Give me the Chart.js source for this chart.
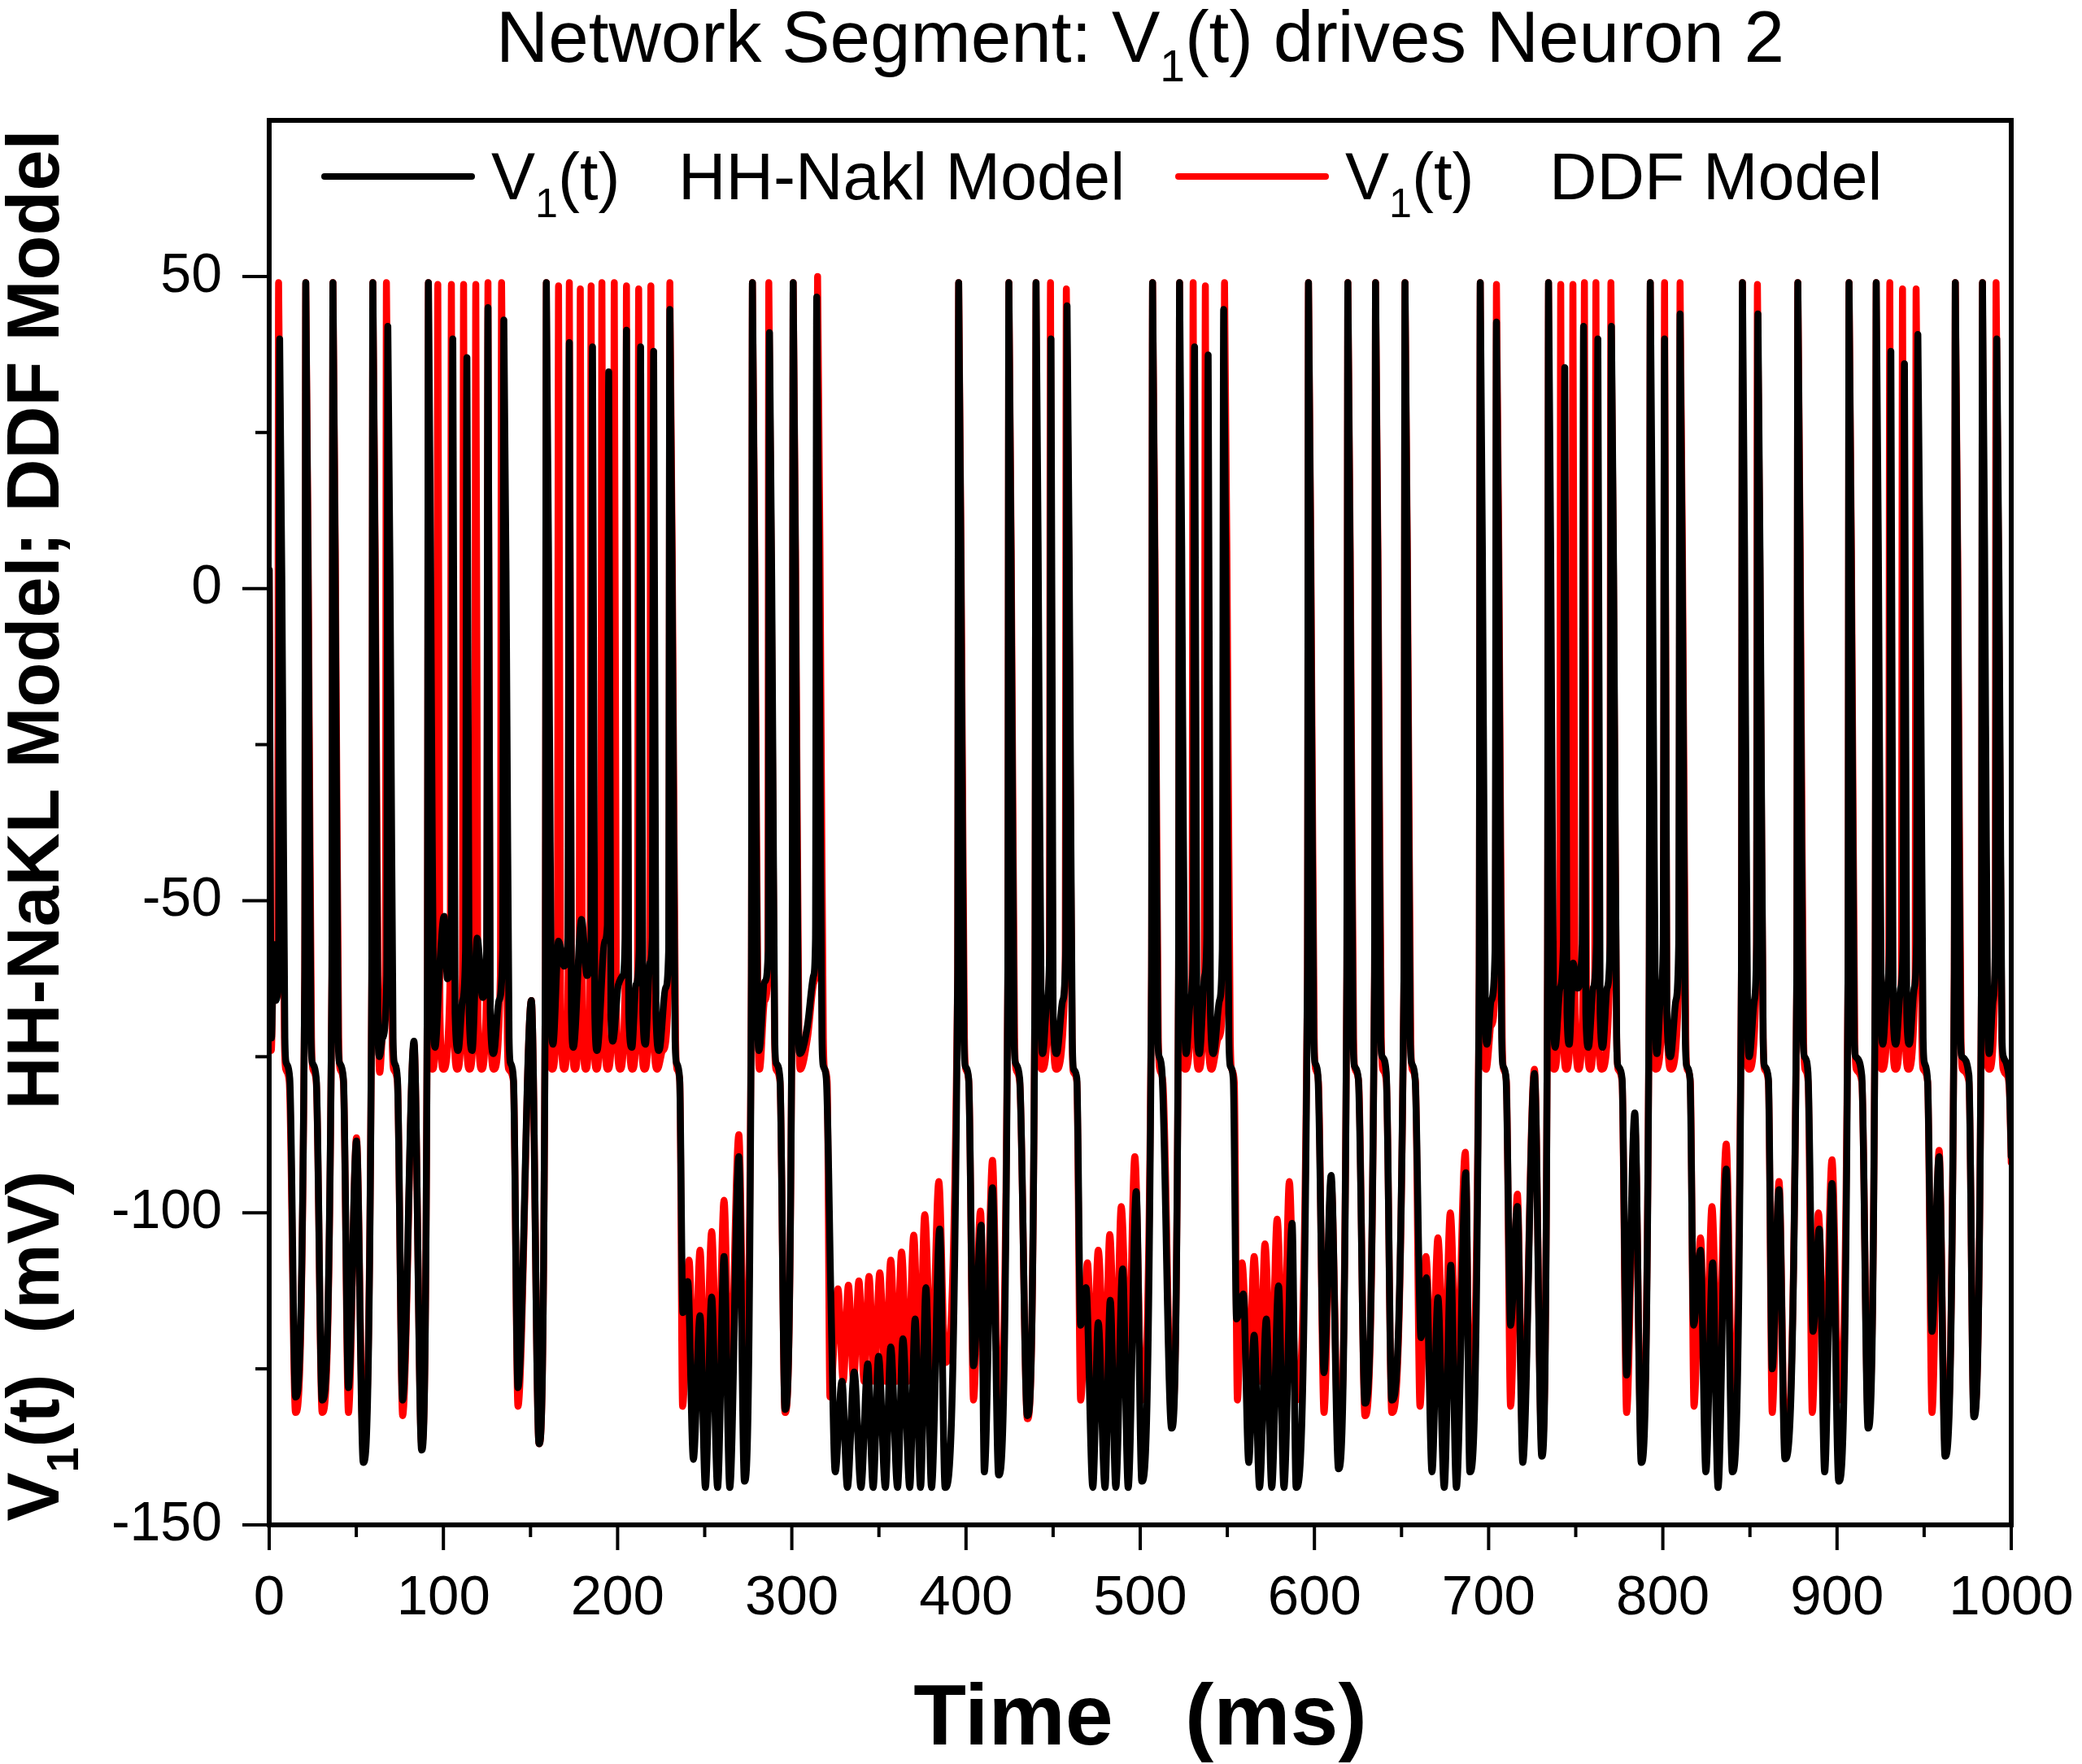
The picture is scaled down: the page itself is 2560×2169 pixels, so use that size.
<!DOCTYPE html>
<html>
<head>
<meta charset="utf-8">
<script src="https://cdn.jsdelivr.net/npm/chart.js@4.4.0/dist/chart.umd.min.js"></script>
<style>
  html, body { margin: 0; padding: 0; background: #fff; }
  canvas { display: block; }
</style>
</head>
<body>
<canvas id="chart" width="2560" height="2169"></canvas>
<script>
const FONT = '"Liberation Sans", Arial, sans-serif'

// tick values
const xTicks = [0, 100, 200, 300, 400, 500, 600, 700, 800, 900, 1000]
const xMinorTicks = [50, 150, 250, 350, 450, 550, 650, 750, 850, 950]
const yTicks = [-150, -100, -50, 0, 50]
const yMinorTicks = [-125, -75, -25, 25]

// V1(t), HH-NaKL model: [time ms, voltage mV]
const hhTrace = [
  [0, 3], [1.3, -72], [2.5, -57], [3.6, -66], [5.4, -62], [6, 40], [7.8, -22], [9, -72], [9.8, -76], [11.8, -78.5], [15.1, -129.5],
  [20.4, -62], [21, 49], [22.8, -22], [24, -72], [24.8, -76], [27, -78.5], [30.4, -130],
  [36, -62], [36.6, 49], [38.4, -22], [39.6, -72], [40.4, -76], [42.6, -78.5], [45.5, -128], [50.1, -88.5], [54, -140],
  [58.9, -62], [59.5, 49], [61.3, -22], [62.5, -72], [63.3, -75], [65, -72], [67.5, -62], [68.1, 42], [69.9, -22], [71.1, -72], [71.9, -76], [73.6, -78.5],
  [76.6, -130], [83.1, -72.5], [87.5, -138],
  [90.8, -62], [91.4, 49], [93.2, -22], [94.4, -70], [95.2, -73.5], [98, -60], [100.4, -52.5], [102.3, -62.5], [104.6, -56], [105.4, 40], [106.7, -68], [108.5, -74],
  [111, -66], [112.7, -58], [113.5, 37], [114.8, -68], [116.5, -74], [119.4, -56], [122.5, -65.5], [124.8, -58], [125.6, 45], [126.9, -68], [128.8, -74.5],
  [131.9, -66], [134, -58], [134.7, 43], [136.5, -22], [137.7, -72], [138.5, -76], [140.2, -78.5], [142.8, -128], [150.5, -66], [154.9, -137],
  [158.5, -62], [159.1, 49], [160.9, -22], [162.1, -70], [162.9, -73], [166.1, -56.5], [169.2, -60.5], [171.5, -56], [172.3, 39.4], [173.5, -68], [174.6, -73.5],
  [179.3, -53], [182.4, -62], [184.8, -56], [185.6, 38.7], [186.9, -68], [188.2, -74], [192.6, -56.5], [194.1, -54], [194.9, 34.7], [196.1, -68], [197.3, -72.5],
  [200.4, -63.5], [203, -62], [204.3, -56], [205.1, 41.4], [206.4, -68], [208.2, -73.5], [210.5, -63.5], [212.4, -58], [213.2, 38.7], [214.5, -68], [216, -73],
  [218.5, -60], [219.9, -56], [220.7, 38], [222, -68], [223.8, -74], [227.5, -64], [229.3, -58], [230, 44.7], [231.8, -22], [233, -72], [233.8, -76], [235.6, -78.5],
  [237.5, -116], [240.3, -111], [243.5, -139.5], [247.3, -116.5], [250.4, -144], [254, -113.5], [257.4, -144], [261.1, -107], [264.4, -144], [269.6, -91], [272.8, -143],
  [276.8, -62], [277.4, 49], [279.2, -22], [280.4, -70], [281.2, -74], [284.4, -63], [286.5, -58], [287.2, 41], [289, -22], [290.2, -72], [291, -76], [293.2, -78.5],
  [296.1, -131.5],
  [300.2, -62], [300.8, 49], [302.6, -22], [303.8, -72], [304.7, -74.5], [309, -70], [312.5, -62], [313.6, -56], [314.3, 46.7], [316.1, -22], [317.3, -72],
  [318.1, -76.5], [319.8, -78.5], [322.6, -116],
  [324.9, -141.5], [328.8, -127], [331.9, -144], [335.8, -125.5], [339.7, -144], [343.6, -124.2], [346.7, -144], [349.8, -123], [353.7, -144], [356.8, -121.5],
  [360.7, -144], [363.8, -120.2], [367.7, -144], [370.8, -117], [373.9, -144], [377, -112], [380.2, -144], [384.9, -102.6], [388, -144],
  [395.2, -62], [395.8, 49], [397.6, -22], [398.8, -72], [399.6, -76.5], [401.5, -78.5], [404.3, -124.5], [408.7, -102], [410.5, -141.5], [415.2, -96], [418.7, -142],
  [424, -62], [424.6, 49], [426.4, -22], [427.6, -72], [428.4, -76], [430.8, -78.5], [435.2, -132.5],
  [439.6, -62], [440.2, 49], [442, -22], [443.2, -70], [444, -74.5], [446.5, -66], [448, -58], [448.8, 40], [450, -68], [452, -74.5], [455.5, -66], [457.2, -58],
  [458, 45.3], [459.8, -22], [461, -72], [461.8, -77], [463.6, -78.5], [465.8, -118],
  [468.9, -112], [472.8, -144], [475.9, -117.6], [479.8, -144], [482.8, -114], [486, -144], [489.9, -109], [493.1, -144], [497.7, -96.6], [500.9, -143],
  [506.5, -62], [507.1, 49], [508.9, -22], [510.1, -72], [510.9, -75], [512.5, -77.5], [518, -134.5],
  [522, -62], [522.6, 49], [524.4, -22], [525.6, -70], [526.4, -74.5], [528.8, -66], [530.4, -58], [531.2, 38.7], [532.5, -68], [534, -74.5], [537, -62], [538.2, -56],
  [539, 37.4], [540.3, -68], [542, -74.5], [545.5, -66], [547.1, -58], [547.9, 44.7], [549.7, -22], [550.9, -72], [551.7, -76.5], [553.4, -78.5], [555.3, -117],
  [559.2, -113], [562.3, -140], [565.4, -119.6], [568.5, -144], [572.4, -117], [575.5, -144], [579.4, -111.7], [582.5, -144], [587.2, -101.7], [589.5, -144],
  [596, -62], [596.6, 49], [598.4, -22], [599.6, -72], [600.4, -76], [602, -78], [605.5, -125.6], [609.6, -94], [613.8, -141],
  [618.6, -62], [619.2, 49], [621, -22], [622.2, -72], [623, -76.5], [625.2, -78.5], [629, -130.5],
  [634.5, -62], [635.1, 49], [636.9, -22], [638.1, -72], [638.9, -75], [641.2, -77.5], [644.4, -130],
  [651.4, -62], [652, 49], [653.8, -22], [655, -72], [655.8, -76], [657.8, -78.5], [661.2, -120], [664.3, -110.4], [667.5, -141.5], [670.9, -113.6], [674.5, -144],
  [678.3, -108.4], [681.5, -144], [686.9, -93.6], [689.2, -141.5],
  [694.6, -62], [695.2, 49], [697, -22], [698.2, -70], [699, -73], [701.5, -66], [703.7, -58], [704.5, 42.7], [706.3, -22], [707.5, -72], [708.3, -76.5], [710, -78.5],
  [712.6, -118], [716.5, -99], [719.6, -140], [726.3, -77.7], [730.5, -139],
  [733.8, -62], [734.4, 49], [736.2, -22], [737.4, -70], [738.2, -73.5], [741, -64], [742.9, -57], [743.7, 35.4], [745, -68], [746.3, -73], [748.5, -60], [751, -64],
  [753.7, -57], [754.5, 42], [755.8, -68], [757.3, -73.5], [760, -64], [761.9, -57], [762.7, 40], [764, -68], [765.5, -73.5], [768, -64], [769.7, -57], [770.5, 42],
  [772.3, -22], [773.5, -72], [774.3, -76.5], [776.6, -78.5], [779.2, -126], [783.9, -84], [787.6, -140],
  [792.2, -62], [792.8, 49], [794.6, -22], [795.8, -70], [796.6, -74.5], [799, -64], [800.2, -57], [801, 40], [802.3, -68], [804.4, -75], [807.5, -66], [809.1, -57],
  [809.9, 44], [811.7, -22], [812.9, -72], [813.7, -76.5], [815.6, -78.5], [817.7, -118], [821.6, -106], [824.7, -141.5], [828.6, -108], [831.7, -144], [836.4, -93],
  [839.9, -141.5],
  [845.1, -62], [845.7, 49], [847.5, -22], [848.7, -70], [849.6, -75], [852.5, -66], [853.8, -57], [854.6, 44], [856.4, -22], [857.6, -72], [858.4, -76.5],
  [860.6, -78.5], [862.8, -125], [866.7, -96.3], [870.1, -139.4],
  [876.9, -62], [877.5, 49], [879.3, -22], [880.5, -72], [881.3, -75], [883.3, -77.5], [886.2, -119], [889.8, -102.6], [892.9, -141.5], [897.1, -95.3], [901, -143],
  [906.3, -62], [906.9, 49], [908.7, -22], [909.9, -72], [910.7, -75], [914.2, -78], [917.8, -134.5],
  [921.9, -62], [922.5, 49], [924.3, -22], [925.5, -70], [926.3, -73], [928.7, -64], [930.1, -57], [930.9, 38], [932.2, -68], [933.8, -73], [936.5, -64], [937.9, -57],
  [938.7, 36], [940, -68], [941.5, -73], [944.3, -64], [945.6, -57], [946.4, 40.7], [948.2, -22], [949.4, -72], [950.2, -76], [952, -79], [954.5, -119],
  [958.6, -91], [962, -139],
  [967.3, -62], [967.9, 49], [969.7, -22], [970.9, -72], [971.7, -75], [975.7, -78], [978.5, -132.7],
  [982.9, -62], [983.5, 49], [985.3, -22], [986.5, -70], [987.4, -74.5], [989.5, -66], [990.9, -57], [991.7, 40], [993.5, -22], [994.7, -72], [995.5, -75],
  [997.6, -76.5], [999, -80], [1000, -91]
]

// V1(t), DDF model
const ddfTrace = [
  [0, 3], [1.2, -74], [2.5, -60], [4.8, -62], [5.4, 49], [7.4, -22], [8.7, -72], [9.5, -77], [11.5, -79], [15.1, -132],
  [20.4, -62], [21, 49], [23, -22], [24.3, -72], [25.1, -77], [27, -79], [30.4, -132],
  [36, -62], [36.6, 49], [38.6, -22], [39.9, -72], [40.7, -77], [42.6, -79], [45.5, -132], [50.1, -88], [54, -137],
  [58.9, -62], [59.5, 49], [61.5, -22], [62.8, -72], [63.5, -77.5], [65, -72], [66.7, -62], [67.3, 49], [69.3, -22], [70.6, -72], [71.4, -77], [73.6, -79],
  [76.6, -132.5], [83.1, -73], [87.5, -137],
  [90.8, -62], [91.4, 49], [92.6, -68], [93.8, -77], [96.1, -62], [96.8, 48.7], [98, -68], [100, -77], [103.9, -62], [104.6, 48.7], [105.8, -68], [108, -77],
  [110.9, -62], [111.6, 48.7], [112.8, -68], [115, -77], [117.9, -62], [118.6, 48.7], [119.8, -68], [122, -77], [124.9, -62], [125.6, 49], [126.8, -68], [129, -77],
  [132.7, -62], [133.4, 49], [135.4, -22], [136.7, -72], [137.5, -77], [140.2, -79], [142.8, -131], [150.5, -66], [154.9, -137],
  [158.5, -62], [159.1, 49], [160.3, -68], [162.5, -77], [165.4, -62], [166.1, 48.5], [167.3, -68], [169.4, -77], [171.6, -62], [172.3, 49], [173.5, -68], [175.6, -77],
  [177.9, -62], [178.6, 48], [179.8, -68], [181.8, -77], [184.1, -62], [184.8, 48.5], [186, -68], [188, -77], [190.3, -62], [191, 49], [192.2, -68], [194.4, -77],
  [197.4, -62], [198.1, 49], [199.3, -68], [201.5, -77], [204.4, -62], [205.1, 48.5], [206.3, -68], [208.5, -77], [211.4, -62], [212.1, 48], [213.3, -68], [215.5, -77],
  [218.4, -62], [219.1, 48.5], [220.3, -68], [222.8, -77], [226, -74], [229.4, -62], [230, 49], [232, -22], [233.3, -72], [234.1, -77], [235.7, -79],
  [237.3, -131], [241, -107.6], [244, -130], [247.3, -106], [250.4, -130], [254, -103], [257.4, -130], [261.1, -98], [264.4, -130], [269.6, -87.5], [272.8, -128],
  [276.8, -62], [277.4, 49], [279.4, -22], [280.7, -72], [281.5, -77], [284.4, -66], [286.2, -62], [286.8, 49], [288.8, -22], [290.1, -72], [290.9, -77],
  [293.2, -79], [296.1, -132],
  [300.2, -62], [300.8, 49], [302.8, -22], [304.1, -72], [304.9, -77], [309, -72], [312.8, -63], [314.2, -56], [314.8, 50], [316.8, -22], [318.1, -72],
  [318.9, -77], [320.3, -79], [321.9, -129.5],
  [326.5, -112.2], [329.5, -127], [332.5, -111.6], [335.5, -127], [338.5, -110.9], [341.5, -127], [344.3, -110.2], [347.4, -127], [350.5, -109.6], [353.7, -127],
  [356.8, -107.6], [360, -127], [363, -106.3], [366.5, -127], [370, -103.6], [373.2, -127], [376.3, -100.3], [380.2, -126], [384.4, -95], [388, -124],
  [395.2, -62], [395.8, 49], [397.8, -22], [399.1, -72], [399.9, -77], [401.6, -79], [404.3, -130], [408.3, -99.7], [411, -129], [415.2, -91.6], [418.7, -132],
  [424, -62], [424.6, 49], [426.6, -22], [427.9, -72], [428.7, -77], [430.8, -79], [435.2, -133],
  [439.6, -62], [440.2, 49], [441.5, -68], [443.6, -77], [447.8, -62], [448.5, 49], [449.7, -68], [451.9, -77], [456.9, -62], [457.6, 48], [459.6, -22], [460.9, -72],
  [461.7, -77.5], [463.6, -79], [465.8, -130],
  [469.7, -108], [472.8, -127], [475.9, -106], [479.8, -127], [482.5, -103.5], [486, -127], [489.1, -99], [493.1, -126], [496.9, -91], [500.9, -130],
  [506.5, -62], [507.1, 49], [509.1, -22], [510.4, -72], [511.2, -77], [513, -79], [518, -133],
  [522, -62], [522.6, 49], [523.9, -68], [525.8, -77], [529.7, -62], [530.4, 49], [531.6, -68], [533.6, -77], [536.7, -62], [537.4, 48.5], [538.6, -68], [541, -77],
  [545, -72], [547.8, -62], [548.4, 49], [550.4, -22], [551.7, -72], [552.5, -77], [554, -79], [555.8, -130],
  [558.4, -108], [562.3, -127], [565.4, -107], [568.8, -127], [571.6, -105], [575.3, -127], [578.6, -101], [582.3, -127], [585.6, -95], [589.5, -130],
  [596, -62], [596.6, 49], [598.6, -22], [599.9, -72], [600.7, -77], [602.3, -79], [605.5, -132], [609.6, -95], [613.8, -137],
  [618.6, -62], [619.2, 49], [621.2, -22], [622.5, -72], [623.3, -77], [625.4, -79], [629, -132.5],
  [634.5, -62], [635.1, 49], [637.1, -22], [638.4, -72], [639.2, -77], [641.3, -79], [644.4, -132],
  [651.4, -62], [652, 49], [654, -22], [655.3, -72], [656.1, -77], [658, -79], [660.6, -131], [664, -107], [667.5, -127], [670.9, -104], [674.5, -127], [678, -100],
  [681.8, -126], [686.6, -90.3], [689.2, -130],
  [694.6, -62], [695.2, 49], [696.5, -68], [698.6, -77], [701.5, -70], [703.9, -62], [704.5, 48.7], [706.5, -22], [707.8, -72], [708.6, -77], [710.2, -79],
  [712.6, -131], [716.5, -97], [719.6, -137], [726.3, -77], [730.5, -137],
  [733.8, -62], [734.4, 49], [735.7, -68], [737.6, -77], [740.7, -62], [741.4, 48.7], [742.6, -68], [744.6, -77], [747.7, -62], [748.4, 48.7], [749.6, -68],
  [751.6, -77], [754.3, -62], [755, 49], [756.2, -68], [758.3, -77], [760.9, -62], [761.6, 49], [762.8, -68], [765, -77], [769.5, -62], [770.2, 49], [772.2, -22],
  [773.5, -72], [774.3, -77], [776.6, -79], [779.2, -132], [783.9, -86], [787.6, -137],
  [792.2, -62], [792.8, 49], [794.1, -68], [796, -77], [800.3, -62], [801, 49], [802.3, -68], [804.6, -77], [809.3, -62], [809.9, 49], [811.9, -22], [813.2, -72],
  [814, -77], [815.8, -79], [817.9, -131], [821.6, -104], [824.7, -127], [828.2, -99], [831.7, -127], [836.4, -89], [839.9, -130],
  [845.1, -62], [845.7, 49], [847, -68], [849.6, -77], [853.7, -62], [854.3, 48.7], [856.3, -22], [857.6, -72], [858.4, -77], [860.6, -79], [862.8, -132],
  [866.7, -95], [870.1, -137],
  [876.9, -62], [877.5, 49], [879.5, -22], [880.8, -72], [881.6, -77], [883.4, -79], [885.8, -132], [889.3, -100], [892.9, -127], [897.1, -91.5], [901, -130],
  [906.3, -62], [906.9, 49], [908.9, -22], [910.2, -72], [911, -77], [914.2, -79], [917.8, -132],
  [921.9, -62], [922.5, 49], [923.8, -68], [925.8, -77], [929.6, -62], [930.3, 49], [931.5, -68], [933.6, -77], [936.9, -62], [937.6, 48], [938.8, -68], [941, -77],
  [944.8, -62], [945.4, 48], [947.4, -22], [948.7, -72], [949.5, -77], [952, -79], [954.5, -132], [958.6, -90], [962, -137],
  [967.3, -62], [967.9, 49], [969.9, -22], [971.2, -72], [972, -77], [975.7, -79], [978.5, -132],
  [982.9, -62], [983.5, 49], [984.8, -68], [987.4, -77], [990.7, -62], [991.3, 49], [993.3, -22], [994.6, -72], [995.4, -77], [997.6, -78], [999, -81], [1000, -92]
]

// text with a lowered, smaller "1"
function drawRich(ctx, parts, x, y, size, weight, align) {
  const subSize = size * 0.62
  const widths = parts.map(p => {
    ctx.font = `${weight} ${p.sub ? subSize : size}px ${FONT}`
    return ctx.measureText(p.text).width
  })
  const total = widths.reduce((a, b) => a + b, 0)
  let cx = align === "center" ? x - total / 2 : x
  ctx.textAlign = "left"
  ctx.textBaseline = "alphabetic"
  parts.forEach((p, i) => {
    ctx.font = `${weight} ${p.sub ? subSize : size}px ${FONT}`
    ctx.fillText(p.text, cx, p.sub ? y + size * 0.27 : y)
    cx += widths[i]
  })
}

const decorations = {
  id: "decorations",
  afterDraw(chart) {
    const { ctx, chartArea: a, scales: { x, y } } = chart
    ctx.save()
    ctx.strokeStyle = "#000"
    ctx.fillStyle = "#000"
    ctx.lineCap = "butt"

    const seg = (x1, y1, x2, y2) => { ctx.beginPath(); ctx.moveTo(x1, y1); ctx.lineTo(x2, y2); ctx.stroke() }

    ctx.lineWidth = 4
    xTicks.forEach(v => { const px = x.getPixelForValue(v); seg(px, a.bottom, px, a.bottom + 31) })
    xMinorTicks.forEach(v => { const px = x.getPixelForValue(v); seg(px, a.bottom, px, a.bottom + 15) })
    yTicks.forEach(v => { const py = y.getPixelForValue(v); seg(a.left - 33, py, a.left, py) })
    yMinorTicks.forEach(v => { const py = y.getPixelForValue(v); seg(a.left - 17, py, a.left, py) })

    ctx.lineWidth = 6
    ctx.strokeRect(a.left, a.top, a.right - a.left, a.bottom - a.top)

    // title
    drawRich(ctx, [{ text: "Network Segment: V" }, { text: "1", sub: true }, { text: "(t) drives Neuron 2" }],
      (a.left + a.right) / 2, 76, 89, "normal", "center")

    // legend
    ctx.lineWidth = 8
    ctx.lineCap = "round"
    ctx.strokeStyle = "#000"
    seg(399, 217, 580, 217)
    ctx.strokeStyle = "#ff0000"
    seg(1449, 217, 1630, 217)
    ctx.fillStyle = "#000"
    drawRich(ctx, [{ text: "V" }, { text: "1", sub: true }, { text: "(t)" }], 604, 245, 81, "normal", "left")
    drawRich(ctx, [{ text: "HH-Nakl Model" }], 834, 245, 81, "normal", "left")
    drawRich(ctx, [{ text: "V" }, { text: "1", sub: true }, { text: "(t)" }], 1654, 245, 81, "normal", "left")
    drawRich(ctx, [{ text: "DDF Model" }], 1905, 245, 81, "normal", "left")

    // x axis title
    drawRich(ctx, [{ text: "Time   (ms)" }], (a.left + a.right) / 2, 2145, 106, "bold", "center")

    // y axis title
    ctx.translate(72, 1015)
    ctx.rotate(-Math.PI / 2)
    drawRich(ctx, [{ text: "V" }, { text: "1", sub: true }, { text: "(t)  (mV)   HH-NaKL Model; DDF Model" }], 0, 0, 90, "bold", "center")

    ctx.restore()
  }
}

new Chart(document.getElementById("chart"), {
  type: "line",
  data: {
    datasets: [
      {
        label: "V1(t) HH-Nakl Model",
        data: hhTrace.map(([x, y]) => ({ x, y })),
        borderColor: "#000000",
        backgroundColor: "#000000"
      },
      {
        label: "V1(t) DDF Model",
        data: ddfTrace.map(([x, y]) => ({ x, y })),
        borderColor: "#ff0000",
        backgroundColor: "#ff0000"
      }
    ]
  },
  options: {
    responsive: false,
    animation: false,
    events: [],
    elements: {
      point: { radius: 0 },
      line: { borderWidth: 8.5, cubicInterpolationMode: "monotone", borderJoinStyle: "round", borderCapStyle: "round" }
    },
    layout: { padding: { top: 148, right: 87, left: 0, bottom: 0 } },
    plugins: {
      legend: { display: false },
      title: { display: false },
      tooltip: { enabled: false }
    },
    scales: {
      x: {
        type: "linear",
        min: 0,
        max: 1000,
        afterBuildTicks: s => { s.ticks = xTicks.map(value => ({ value })) },
        afterFit: s => { s.height = 294; s.paddingLeft = 0; s.paddingRight = 0 },
        grid: { display: false, drawTicks: false },
        border: { display: false },
        ticks: { padding: 50, color: "#000", maxRotation: 0, autoSkip: false, callback: v => String(v), font: { family: FONT, size: 69 } }
      },
      y: {
        min: -150,
        max: 75,
        afterBuildTicks: s => { s.ticks = yTicks.map(value => ({ value })) },
        afterFit: s => { s.width = 331; s.paddingTop = 0; s.paddingBottom = 0 },
        grid: { display: false, drawTicks: false },
        border: { display: false },
        ticks: { padding: 58, color: "#000", callback: v => String(v), font: { family: FONT, size: 68 } }
      }
    }
  },
  plugins: [decorations]
})
</script>
</body>
</html>
